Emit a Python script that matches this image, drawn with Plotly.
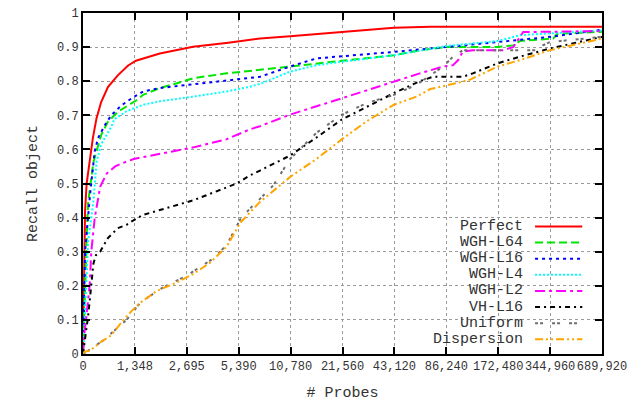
import plotly.graph_objects as go

# x positions are in axis units: the axis is doubling-spaced, one unit per labelled tick
tick_pos = [0, 1, 2, 3, 4, 5, 6, 7, 8, 9, 10]
tick_labels = ["0", "1,348", "2,695", "5,390", "10,780", "21,560", "43,120",
               "86,240", "172,480", "344,960", "689,920"]
y_ticks = [0, 0.1, 0.2, 0.3, 0.4, 0.5, 0.6, 0.7, 0.8, 0.9, 1]
y_tick_labels = ["0", "0.1", "0.2", "0.3", "0.4", "0.5", "0.6", "0.7", "0.8", "0.9", "1"]

perfect_x = [0, 0.02, 0.04, 0.07, 0.13, 0.19, 0.26, 0.35, 0.48, 0.67, 0.87, 1.02, 1.48, 2.12, 2.8, 3.41, 3.99, 4.99, 5.99, 6.69, 10]
perfect_y = [0, 0.25, 0.42, 0.50, 0.565, 0.633, 0.691, 0.739, 0.783, 0.817, 0.846, 0.86, 0.881, 0.901, 0.913, 0.925, 0.932, 0.945, 0.957, 0.96, 0.96]

l64_x = [0, 0.04, 0.08, 0.10, 0.20, 0.26, 0.35, 0.48, 0.67, 0.87, 1.03, 1.16, 1.48, 1.81, 2.13, 2.77, 3.41, 3.99, 4.99, 5.99, 6.49, 6.99, 7.98, 8.29, 8.42, 9.06, 9.13, 10]
l64_y = [0, 0.22, 0.38, 0.446, 0.562, 0.594, 0.642, 0.681, 0.71, 0.729, 0.744, 0.76, 0.78, 0.794, 0.809, 0.823, 0.833, 0.843, 0.86, 0.876, 0.891, 0.90, 0.90, 0.905, 0.918, 0.925, 0.939, 0.945]

l16_x = [0, 0.04, 0.135, 0.225, 0.29, 0.42, 0.545, 0.74, 0.93, 1.16, 1.48, 2.13, 2.77, 3.41, 3.99, 4.5, 4.99, 5.99, 6.99, 8.0, 9.0, 10]
l16_y = [0, 0.3, 0.466, 0.594, 0.633, 0.671, 0.70, 0.729, 0.749, 0.77, 0.78, 0.79, 0.802, 0.813, 0.843, 0.867, 0.873, 0.886, 0.90, 0.915, 0.93, 0.951]

l4_x = [0, 0.05, 0.1, 0.2, 0.26, 0.35, 0.55, 0.6, 0.84, 1.16, 1.48, 2.13, 2.77, 3.22, 3.41, 3.99, 4.5, 4.99, 5.99, 6.99, 8.0, 8.42, 10]
l4_y = [0, 0.18, 0.33, 0.446, 0.562, 0.615, 0.668, 0.688, 0.712, 0.731, 0.741, 0.755, 0.77, 0.784, 0.792, 0.828, 0.847, 0.857, 0.876, 0.903, 0.918, 0.935, 0.949]

l2_x = [0, 0.02, 0.064, 0.13, 0.16, 0.225, 0.33, 0.46, 0.62, 0.73, 0.98, 1.16, 1.48, 2.13, 2.77, 3.22, 3.41, 3.99, 4.99, 5.99, 6.49, 6.94, 7.13, 7.23, 7.32, 7.51, 8.09, 8.29, 8.48, 10]
l2_y = [0, 0.05, 0.108, 0.205, 0.30, 0.398, 0.49, 0.53, 0.55, 0.558, 0.572, 0.577, 0.586, 0.606, 0.63, 0.659, 0.668, 0.702, 0.75, 0.799, 0.823, 0.843, 0.847, 0.862, 0.887, 0.891, 0.891, 0.90, 0.944, 0.947]

vh_x = [0, 0.058, 0.096, 0.13, 0.16, 0.2, 0.25, 0.33, 0.48, 0.67, 0.84, 0.93, 1.16, 1.48, 2.13, 2.96, 3.22, 3.41, 3.99, 4.5, 4.99, 5.99, 6.49, 6.74, 7.32, 7.51, 7.98, 8.42, 9.0, 10]
vh_y = [0, 0.06, 0.108, 0.157, 0.205, 0.265, 0.29, 0.30, 0.34, 0.369, 0.379, 0.388, 0.408, 0.422, 0.451, 0.50, 0.524, 0.538, 0.582, 0.635, 0.688, 0.765, 0.80, 0.813, 0.813, 0.823, 0.852, 0.872, 0.896, 0.93]

uni_x = [0, 0.07, 0.39, 0.84, 1.1, 1.48, 2.0, 2.51, 2.77, 3.03, 3.22, 3.41, 3.67, 3.99, 4.5, 4.99, 5.47, 5.99, 6.43, 6.94, 7.13, 7.32, 8.75, 8.86, 9.0, 10]
uni_y = [0, 0.007, 0.04, 0.10, 0.15, 0.19, 0.23, 0.28, 0.32, 0.395, 0.427, 0.455, 0.495, 0.572, 0.649, 0.702, 0.736, 0.76, 0.79, 0.843, 0.872, 0.891, 0.891, 0.905, 0.915, 0.93]

disp_x = [0, 0.03, 0.135, 0.35, 0.545, 0.78, 0.93, 1.1, 1.42, 1.81, 2.13, 2.45, 2.77, 3.03, 3.41, 3.99, 4.5, 4.99, 5.47, 5.99, 6.43, 6.69, 6.99, 7.45, 7.99, 8.42, 9.0, 10]
disp_y = [0, 0.007, 0.01, 0.036, 0.055, 0.10, 0.125, 0.15, 0.185, 0.21, 0.235, 0.268, 0.315, 0.385, 0.446, 0.519, 0.572, 0.63, 0.683, 0.731, 0.755, 0.777, 0.787, 0.804, 0.843, 0.862, 0.891, 0.925]

series = [
    ("Perfect", perfect_x, perfect_y, "#ff0000", "solid"),
    ("WGH-L64", l64_x, l64_y, "#00e600", "8px,4px"),
    ("WGH-L16", l16_x, l16_y, "#0000ff", "3px,4px"),
    ("WGH-L4", l4_x, l4_y, "#00ffff", "2px,2px"),
    ("WGH-L2", l2_x, l2_y, "#ff00ff", "10px,4px,3px,4px"),
    ("VH-L16", vh_x, vh_y, "#000000", "5px,4px,2px,4px"),
    ("Uniform", uni_x, uni_y, "#6e6e6e", "3px,2px,3px,9px"),
    ("Dispersion", disp_x, disp_y, "#ffa500", "8px,3px,2px,3px,2px,3px"),
]

FONT = "Courier New, Liberation Mono, monospace"

fig = go.Figure()
for name, xs, ys, color, dash in series:
    fig.add_trace(go.Scatter(x=xs, y=ys, mode="lines", name=name,
                             line=dict(color=color, width=2, dash=dash),
                             showlegend=False))

# custom legend: text right-aligned, sample line to the right (gnuplot style)
shapes = [dict(type="rect", xref="paper", yref="paper", x0=0.669, x1=1.0, y0=0.0, y1=0.396,
               fillcolor="white", line=dict(width=0), layer="between")]
annotations = []
row_top = 0.374
row_step = 0.0473
for i, (name, xs, ys, color, dash) in enumerate(series):
    yy = row_top - i * row_step
    annotations.append(dict(xref="paper", yref="paper", x=0.8516, y=yy, text=name,
                            showarrow=False, xanchor="right", yanchor="middle",
                            font=dict(family=FONT, size=15, color="#333333")))
    shapes.append(dict(type="line", xref="paper", yref="paper", x0=0.871, x1=0.962,
                       y0=yy, y1=yy, line=dict(color=color, width=2, dash=dash), layer="above"))

# the page puts the figure 8px in from the top-left corner, so the figure is 8px smaller
fig.update_layout(
    width=636, height=396,
    margin=dict(l=75, r=42, t=5, b=50),
    paper_bgcolor="white", plot_bgcolor="white",
    font=dict(family=FONT, size=12, color="#333333"),
    shapes=shapes, annotations=annotations,
    showlegend=False,
)
fig.update_xaxes(
    range=[0, 10], tickvals=tick_pos, ticktext=tick_labels, tickangle=0,
    automargin=False,
    showline=True, linecolor="black", linewidth=2, mirror="ticks",
    ticks="inside", ticklen=7, tickwidth=1.5, tickcolor="black",
    showgrid=True, gridcolor="#9a9a9a", griddash="dot", gridwidth=1,
    zeroline=False,
    title=dict(text="# Probes", font=dict(family=FONT, size=15, color="#333333"), standoff=13),
    tickfont=dict(family=FONT, size=12, color="#333333"),
)
fig.update_yaxes(
    range=[0, 1], tickvals=y_ticks, ticktext=y_tick_labels,
    automargin=False, ticklabeloverflow="allow",
    showline=True, linecolor="black", linewidth=2, mirror="ticks",
    ticks="inside", ticklen=7, tickwidth=1.5, tickcolor="black",
    showgrid=True, gridcolor="#9a9a9a", griddash="dot", gridwidth=1,
    zeroline=False,
    title=dict(text="Recall object", font=dict(family=FONT, size=15, color="#333333"), standoff=16),
    tickfont=dict(family=FONT, size=12, color="#333333"),
)

fig.write_html("out.html")
